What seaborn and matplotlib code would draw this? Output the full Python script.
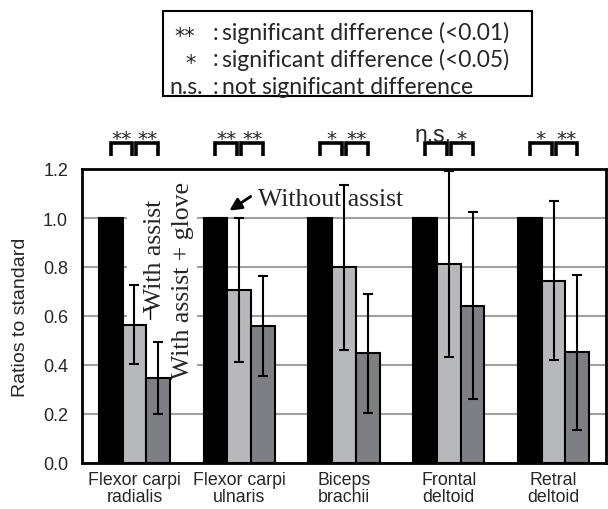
import numpy as np
import pandas as pd
import matplotlib.pyplot as plt
import seaborn as sns
from matplotlib.patches import Rectangle

# muscles on the x axis, three conditions per muscle
muscles = ["Flexor carpi\nradialis", "Flexor carpi\nulnaris", "Biceps\nbrachii",
           "Frontal\ndeltoid", "Retral\ndeltoid"]
conditions = ["Without assist", "With assist", "With assist + glove"]

without_assist = [1.0, 1.0, 1.0, 1.0, 1.0]
with_assist = [0.565, 0.707, 0.799, 0.812, 0.744]
with_assist_sd = [0.161, 0.295, 0.337, 0.380, 0.325]
with_glove = [0.347, 0.560, 0.448, 0.642, 0.452]
with_glove_sd = [0.148, 0.203, 0.243, 0.381, 0.317]

# significance marks: (without vs with assist, with assist vs with glove)
sig_labels = [("**", "**"), ("**", "**"), ("*", "**"), ("n.s.", "*"), ("*", "**")]

legend_rows = [("**", "significant difference (<0.01)"),
               ("*", "significant difference (<0.05)"),
               ("n.s.", "not significant difference")]

colors = ["#000000", "#b7b8ba", "#7e7f83"]

df = pd.DataFrame({
    "muscle": muscles * 3,
    "condition": np.repeat(conditions, len(muscles)),
    "ratio": without_assist + with_assist + with_glove,
})

sns.set_style("white")
plt.rcParams["font.family"] = ["Liberation Sans", "DejaVu Sans"]

fig = plt.figure(figsize=(6.08, 5.10), dpi=100)
ax = fig.add_axes([82 / 608, 1 - 464 / 510, 524 / 608, 294 / 510])

sns.barplot(data=df, x="muscle", y="ratio", hue="condition", hue_order=conditions,
            palette=colors, width=0.68, edgecolor="black", linewidth=1.5,
            errorbar=None, legend=False, saturation=1, ax=ax)

centers = [[b.get_x() + b.get_width() / 2 for b in cont] for cont in ax.containers]

for xs, vals, sds in zip(centers[1:], [with_assist, with_glove], [with_assist_sd, with_glove_sd]):
    ax.errorbar(xs, vals, yerr=sds, fmt="none", ecolor="black", elinewidth=1.5,
                capsize=3.5, capthick=1.5, zorder=3)

ax.set_xlim(-0.5, 4.5)
ax.set_ylim(0, 1.2)
ax.set_yticks(np.arange(0, 1.21, 0.2))
ax.set_yticklabels([f"{v:.1f}" for v in np.arange(0, 1.21, 0.2)], fontsize=13)
ax.set_xticks(range(len(muscles)))
ax.set_xticklabels(muscles, fontsize=12.8, linespacing=1.0)
ax.yaxis.grid(True, color="#a0a0a0", linewidth=1.5)
ax.set_axisbelow(True)
ax.tick_params(length=0)
ax.tick_params(axis="y", pad=10)
ax.tick_params(axis="x", pad=6)
ax.set_xlabel("")
ax.set_ylabel("Ratios to standard", fontsize=14, labelpad=10)
for sp in ax.spines.values():
    sp.set_color("black")
    sp.set_linewidth(2)

# significance brackets above the axes
gap = 0.02
for i, (lab1, lab2) in enumerate(sig_labels):
    x0, x1, x2 = centers[0][i], centers[1][i], centers[2][i]
    for a, b, lab in [(x0, x1 - gap, lab1), (x1 + gap, x2, lab2)]:
        ax.plot([a, a, b, b], [1.253, 1.306, 1.306, 1.253], color="black", lw=2.6,
                clip_on=False, solid_joinstyle="miter", solid_capstyle="butt")
        if lab == "n.s.":
            ax.text((a + b) / 2 - 0.03, 1.316, lab, ha="center", va="baseline",
                    fontsize=16.5)
        else:
            ax.text((a + b) / 2, 1.302, lab, ha="center", va="baseline",
                    fontsize=14.5, family="DejaVu Sans")

# series labels inside the plot
serif = "Liberation Serif"
ax.add_patch(Rectangle((-0.07, 0.33), 0.667, 0.83, facecolor="white",
                       edgecolor="none", zorder=0.7))
ax.text(0.197, 0.849, "With assist", rotation=90, ha="center", va="center",
        fontsize=18.5, family=serif, zorder=0.8)
ax.text(0.464, 0.751, "With assist + glove", rotation=90, ha="center", va="center",
        fontsize=18.5, family=serif, zorder=0.8)
ax.plot([0.149, 0.149], [0.588, 0.64], color="black", lw=1, zorder=2)
ax.text(1.18, 1.053, "Without assist", ha="left", va="baseline",
        fontsize=18.5, family=serif)
ax.annotate("", xy=(0.884, 1.024), xytext=(1.132, 1.094),
            arrowprops=dict(arrowstyle="-|>", color="black", lw=2, mutation_scale=18))

# legend box at the top
fig.patches.append(Rectangle((163 / 608, 1 - 97 / 510), 369 / 608, 85 / 510,
                             transform=fig.transFigure, facecolor="white",
                             edgecolor="black", linewidth=1.5))
sym_x = {"**": 185, "*": 191, "n.s.": 186}
for k, (sym, desc) in enumerate(legend_rows):
    yc = 1 - (33 + 27 * k) / 510
    if sym == "n.s.":
        fig.text(sym_x[sym] / 608, yc, sym, ha="center", va="center", fontsize=16.5,
                 family="Lato")
    else:
        fig.text(sym_x[sym] / 608, yc - 0.008, sym, ha="center", va="center", fontsize=15,
                 family="DejaVu Sans")
    fig.text(215 / 608, yc, ":", ha="center", va="center", fontsize=16.5, family="Lato")
    fig.text(222 / 608, yc, desc, ha="left", va="center", fontsize=16.5, family="Lato")

fig.savefig("out.png", dpi=100)
